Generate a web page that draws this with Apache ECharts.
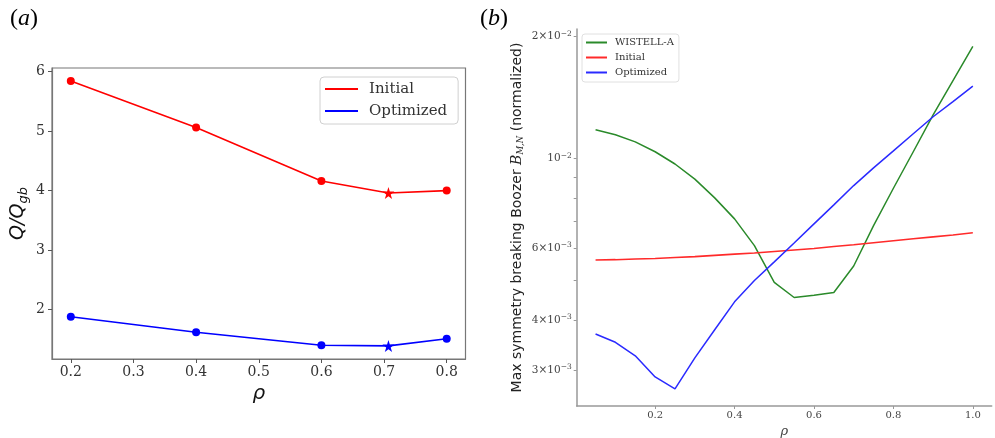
<!DOCTYPE html>
<html><head><meta charset="utf-8">
<script src="https://cdn.jsdelivr.net/npm/echarts@6/dist/echarts.min.js"></script>
<style>html,body{margin:0;padding:0;background:#fff}#c{width:995px;height:438px}</style>
</head><body><div id="c"></div>
<script>
// ---- Panel (a) data ----
const rhoA = [0.2, 0.4, 0.6, 0.707, 0.8];
const qInitial = [5.84, 5.06, 4.16, 3.96, 4.00];
const qOptimized = [1.88, 1.62, 1.40, 1.39, 1.51];
const starRho = 0.707;
const xTicksA = [0.2, 0.3, 0.4, 0.5, 0.6, 0.7, 0.8];
const yTicksA = [2, 3, 4, 5, 6];

// ---- Panel (b) data ----
const rhoB = [0.05, 0.10, 0.15, 0.20, 0.25, 0.30, 0.35, 0.40, 0.45, 0.50,
              0.55, 0.60, 0.65, 0.70, 0.75, 0.80, 0.85, 0.90, 0.95, 1.00];
const wistellA = [0.01179, 0.01145, 0.0110, 0.0104, 0.0097, 0.0089, 0.0080, 0.0071, 0.0061, 0.00495,
                  0.00454, 0.0046, 0.00467, 0.00543, 0.00683, 0.00845, 0.0104, 0.01282, 0.01558, 0.01894];
const initialB = [0.00562, 0.00563, 0.00565, 0.00567, 0.0057, 0.00573, 0.00577, 0.00581, 0.00585, 0.0059,
                  0.00595, 0.0060, 0.00607, 0.00613, 0.0062, 0.00627, 0.00634, 0.00641, 0.00648, 0.00656];
const optimizedB = [0.00369, 0.00352, 0.00326, 0.00289, 0.0027, 0.00322, 0.00378, 0.00443, 0.0050, 0.00556,
                    0.00619, 0.0069, 0.00769, 0.00858, 0.00949, 0.01045, 0.01152, 0.01269, 0.01383, 0.0151];
const xTicksB = [0.2, 0.4, 0.6, 0.8, 1.0];
const yLabelsB = [0.003, 0.004, 0.006, 0.01, 0.02];
const yTicksB = [0.003, 0.004, 0.005, 0.006, 0.007, 0.008, 0.009, 0.01, 0.02];

const STAR = 'path://M50,0 L61,35 L98,35 L68,57 L79,91 L50,70 L21,91 L32,57 L2,35 L39,35 Z';
const SERIF = 'DejaVu Serif';
const SANS = 'DejaVu Sans';

function pointsA(vals) {
  return rhoA.map((r, i) => ({
    value: [r, vals[i]],
    symbol: r === starRho ? STAR : 'circle',
    symbolSize: r === starRho ? 12 : 8
  }));
}
function logLabel(v) {
  const e = Math.floor(Math.log10(v) + 1e-9);
  const m = Math.round(v / Math.pow(10, e));
  return '{m|' + (m === 1 ? '' : m + '\u00D7') + '10}{e|\u2212' + Math.abs(e) + '}';
}

const chart = echarts.init(document.getElementById('c'), null, {renderer: 'canvas'});
const titleRich = {
  p: {fontFamily: 'Liberation Serif', fontSize: 24, fontWeight: 'normal', color: '#000'},
  i: {fontFamily: 'Liberation Serif', fontStyle: 'italic', fontWeight: 'normal', fontSize: 24, color: '#000'}
};
chart.setOption({
  animation: false,
  backgroundColor: '#fff',
  title: [
    {text: '{p|(}{i|a}{p|)}', left: 5, top: 2, textStyle: {fontWeight: 'normal', rich: titleRich}},
    {text: '{p|(}{i|b}{p|)}', left: 475, top: 2, textStyle: {fontWeight: 'normal', rich: titleRich}}
  ],
  grid: [
    {left: 52, top: 68, width: 413.5, height: 291, show: true, borderColor: '#777', borderWidth: 1.2,
     containLabel: false, outerBoundsMode: 'none'},
    {left: 576.7, top: 29, width: 415, height: 377, containLabel: false, outerBoundsMode: 'none'}
  ],
  legend: [
    {orient: 'vertical', left: 320, top: 77, data: ['Initial', 'Optimized'],
     icon: 'rect', itemWidth: 33, itemHeight: 2, itemGap: 6,
     backgroundColor: 'rgba(255,255,255,0.85)', borderColor: '#d0d0d0', borderWidth: 1, borderRadius: 4,
     padding: [4, 11, 5, 5],
     textStyle: {fontFamily: SERIF, fontSize: 15, color: '#333', lineHeight: 16, padding: [0, 0, 0, 6]}},
    {orient: 'vertical', left: 582, top: 34, data: ['WISTELL-A', 'Initial ', 'Optimized '],
     icon: 'rect', itemWidth: 21, itemHeight: 2, itemGap: 4,
     formatter: n => n.trim(),
     backgroundColor: 'rgba(255,255,255,0.85)', borderColor: '#e0e0e0', borderWidth: 1, borderRadius: 3,
     padding: [3, 5, 4, 4],
     textStyle: {fontFamily: SERIF, fontSize: 10, color: '#333', lineHeight: 11, padding: [0, 0, 0, 3]}}
  ],
  xAxis: [
    {gridIndex: 0, type: 'value', min: 0.17, max: 0.83,
     axisLine: {show: true, lineStyle: {color: '#777', width: 1.2}},
     axisTick: {show: true, length: 4, customValues: xTicksA, lineStyle: {color: '#555'}},
     axisLabel: {customValues: xTicksA, formatter: v => v.toFixed(1), fontFamily: SERIF, fontSize: 14,
                 color: '#333', margin: 6},
     splitLine: {show: false},
     name: '\u03C1', nameLocation: 'middle', nameGap: 23,
     nameTextStyle: {fontFamily: SANS, fontStyle: 'italic', fontSize: 20, color: '#111'}},
    {gridIndex: 1, type: 'value', min: 0.0025, max: 1.0475,
     axisLine: {show: true, lineStyle: {color: '#999', width: 1.5}},
     axisTick: {show: true, length: 3, customValues: xTicksB, lineStyle: {color: '#999'}},
     axisLabel: {customValues: xTicksB, formatter: v => v.toFixed(1), fontFamily: SERIF, fontSize: 10,
                 color: '#444', margin: 4},
     splitLine: {show: false},
     name: '\u03C1', nameLocation: 'middle', nameGap: 16,
     nameTextStyle: {fontFamily: SERIF, fontStyle: 'italic', fontSize: 13, color: '#444'}}
  ],
  yAxis: [
    {gridIndex: 0, type: 'value', min: 1.17, max: 6.06,
     axisLine: {show: true, lineStyle: {color: '#777', width: 1.2}},
     axisTick: {show: true, length: 4, customValues: yTicksA, lineStyle: {color: '#555'}},
     axisLabel: {customValues: yTicksA, formatter: v => String(v), fontFamily: SERIF, fontSize: 14,
                 color: '#333', margin: 7},
     splitLine: {show: false},
     name: '{q|Q/Q}{s|gb}', nameLocation: 'middle', nameGap: 22, nameRotate: 90,
     nameTextStyle: {rich: {
       q: {fontFamily: SANS, fontStyle: 'italic', fontSize: 19, color: '#111', lineHeight: 24},
       s: {fontFamily: SANS, fontStyle: 'italic', fontSize: 13, color: '#111', lineHeight: 14, verticalAlign: 'bottom'}
     }}},
    {gridIndex: 1, type: 'log', logBase: 10, min: 0.00245, max: 0.0209,
     axisLine: {show: true, lineStyle: {color: '#999', width: 1.5}},
     axisTick: {show: true, length: 3, customValues: yTicksB, lineStyle: {color: '#999'}},
     axisLabel: {customValues: yLabelsB, formatter: v => logLabel(v), margin: 5,
                 rich: {
                   m: {fontFamily: SERIF, fontSize: 10.5, color: '#444', lineHeight: 14},
                   e: {fontFamily: SERIF, fontSize: 7.5, color: '#444', lineHeight: 9, verticalAlign: 'top'}
                 }},
     minorTick: {show: false}, splitLine: {show: false},
     name: '{a|Max symmetry breaking Boozer }{b|B}{c|M,N}{a| (normalized)}',
     nameLocation: 'middle', nameGap: 51, nameRotate: 90,
     nameTextStyle: {rich: {
       a: {fontFamily: SANS, fontSize: 14, color: '#222', lineHeight: 17},
       b: {fontFamily: SERIF, fontStyle: 'italic', fontSize: 14, color: '#222', lineHeight: 17},
       c: {fontFamily: SERIF, fontStyle: 'italic', fontSize: 8.5, color: '#222', lineHeight: 8, verticalAlign: 'bottom'}
     }}}
  ],
  series: [
    {name: 'Initial', type: 'line', xAxisIndex: 0, yAxisIndex: 0, data: pointsA(qInitial),
     color: '#ff0000', lineStyle: {width: 1.6}, itemStyle: {color: '#ff0000'}},
    {name: 'Optimized', type: 'line', xAxisIndex: 0, yAxisIndex: 0, data: pointsA(qOptimized),
     color: '#0000ff', lineStyle: {width: 1.6}, itemStyle: {color: '#0000ff'}},
    {name: 'WISTELL-A', type: 'line', xAxisIndex: 1, yAxisIndex: 1, showSymbol: false, symbol: 'none',
     data: rhoB.map((r, i) => [r, wistellA[i]]), color: '#2a8a2a', lineStyle: {width: 1.5}},
    {name: 'Initial ', type: 'line', xAxisIndex: 1, yAxisIndex: 1, showSymbol: false, symbol: 'none',
     data: rhoB.map((r, i) => [r, initialB[i]]), color: '#ff2a2a', lineStyle: {width: 1.6}},
    {name: 'Optimized ', type: 'line', xAxisIndex: 1, yAxisIndex: 1, showSymbol: false, symbol: 'none',
     data: rhoB.map((r, i) => [r, optimizedB[i]]), color: '#2a2aff', lineStyle: {width: 1.5}}
  ]
});
</script></body></html>
